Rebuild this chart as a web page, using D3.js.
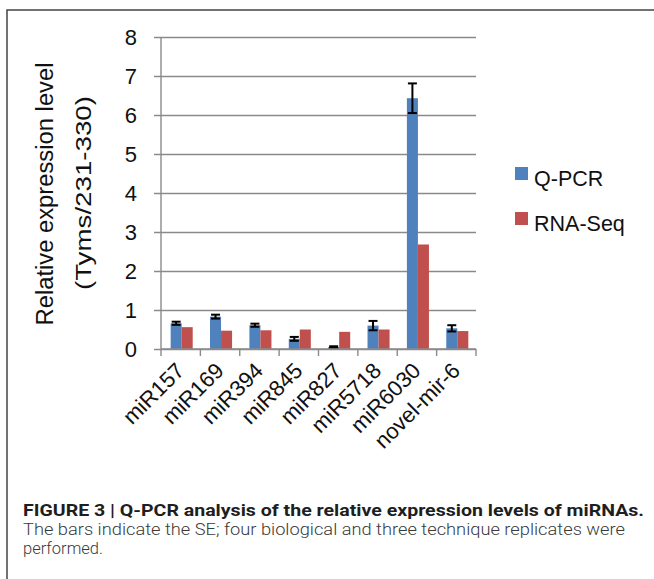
<!DOCTYPE html>
<html>
<head>
<meta charset="utf-8">
<script src="https://cdn.jsdelivr.net/npm/d3@7"></script>
<style>
  body { margin: 0; background: #fff; }
  svg { display: block; }
</style>
</head>
<body>
<svg id="chart"></svg>
<script>
// values
const categories = ["miR157", "miR169", "miR394", "miR845", "miR827", "miR5718", "miR6030", "novel-mir-6"];
const series = ["Q-PCR", "RNA-Seq"];
const qpcr = [0.66, 0.83, 0.61, 0.26, 0.05, 0.60, 6.43, 0.53];
const qpcrSE = [0.04, 0.05, 0.04, 0.05, 0.02, 0.12, 0.38, 0.08];
const rnaseq = [0.56, 0.47, 0.48, 0.50, 0.44, 0.50, 2.68, 0.46];
const yTicks = [0, 1, 2, 3, 4, 5, 6, 7, 8];
const captionTitle = "FIGURE 3 | Q-PCR analysis of the relative expression levels of miRNAs.";
const captionBody = [
    "The bars indicate the SE; four biological and three technique replicates were",
    "performed."
];

const W = 654, H = 579;
const colors = { "Q-PCR": "#4F81BD", "RNA-Seq": "#C0504D" };
const font = "'Liberation Sans', Arial, sans-serif";

const svg = d3.select("#chart").attr("width", W).attr("height", H);

// frame round the figure (top and left edge only)
svg.append("path")
    .attr("d", `M7,${H} L7,10 L${W},10`)
    .attr("fill", "none")
    .attr("stroke", "#444")
    .attr("stroke-width", 1.5);

const plot = { left: 161, right: 476, top: 37, bottom: 349 };

const x = d3.scaleBand().domain(categories).range([plot.left, plot.right]);
const xs = d3.scaleBand().domain(series)
    .range([x.bandwidth() * 0.245, x.bandwidth() * 0.805]);
const y = d3.scaleLinear().domain([0, 8]).range([plot.bottom, plot.top]);

// gridlines + left ticks
const yAxis = svg.append("g")
    .attr("transform", `translate(${plot.left},0)`)
    .call(d3.axisLeft(y).tickValues(yTicks).tickSize(-(plot.right - plot.left)).tickPadding(24).tickFormat(d3.format("d")));
yAxis.select(".domain").remove();
yAxis.selectAll(".tick line").attr("stroke", "#8a8a8a").attr("stroke-width", 1.4)
    .attr("x1", -7);
yAxis.selectAll(".tick text")
    .attr("font-family", font).attr("font-size", 22).attr("fill", "#111");

// vertical axis line
svg.append("line")
    .attr("x1", plot.left).attr("x2", plot.left)
    .attr("y1", y(8)).attr("y2", plot.bottom)
    .attr("stroke", "#8a8a8a").attr("stroke-width", 1.4);

// bars
const rows = categories.map((c, i) => ({ cat: c, i, vals: [qpcr[i], rnaseq[i]] }));
const grp = svg.append("g").selectAll("g").data(rows).join("g")
    .attr("transform", d => `translate(${x(d.cat)},0)`);

grp.selectAll("rect")
    .data(d => series.map((s, k) => ({ s, v: d.vals[k] })))
    .join("rect")
    .attr("x", d => xs(d.s))
    .attr("width", xs.bandwidth())
    .attr("y", d => y(d.v))
    .attr("height", d => y(0) - y(d.v))
    .attr("fill", d => colors[d.s]);

// error bars on Q-PCR
const eb = grp.append("g")
    .attr("stroke", "#000").attr("stroke-width", 2);
const ebx = xs("Q-PCR") + xs.bandwidth() / 2;
eb.append("line")
    .attr("x1", ebx).attr("x2", ebx)
    .attr("y1", d => y(qpcr[d.i] + qpcrSE[d.i]))
    .attr("y2", d => y(qpcr[d.i] - qpcrSE[d.i]));
[1, -1].forEach(sign => {
    eb.append("line")
        .attr("x1", ebx - 4.5).attr("x2", ebx + 4.5)
        .attr("y1", d => y(qpcr[d.i] + sign * qpcrSE[d.i]))
        .attr("y2", d => y(qpcr[d.i] + sign * qpcrSE[d.i]));
});

// x axis
const xAxis = svg.append("g")
    .attr("transform", `translate(0,${plot.bottom})`);
xAxis.append("line")
    .attr("x1", plot.left).attr("x2", plot.right)
    .attr("stroke", "#8a8a8a").attr("stroke-width", 1.4);
const bounds = categories.map(c => x(c)).concat([plot.right]);
xAxis.selectAll("line.tk").data(bounds).join("line")
    .attr("class", "tk")
    .attr("x1", d => d).attr("x2", d => d)
    .attr("y1", 0).attr("y2", 7)
    .attr("stroke", "#8a8a8a").attr("stroke-width", 1.4);
xAxis.selectAll("text").data(categories).join("text")
    .attr("transform", d => `translate(${x(d) + x.bandwidth() / 2 + 5},${23}) rotate(-45)`)
    .attr("text-anchor", "end")
    .attr("font-family", font).attr("font-size", 22).attr("fill", "#111")
    .text(d => d);

// y axis title
const yt = svg.append("g").attr("font-family", font).attr("fill", "#111").attr("text-anchor", "middle");
yt.append("text")
    .attr("transform", "translate(53,194) rotate(-90)")
    .attr("font-size", 23)
    .attr("textLength", 263).attr("lengthAdjust", "spacingAndGlyphs")
    .text("Relative expression level");
yt.append("text")
    .attr("transform", "translate(91,193) rotate(-90)")
    .attr("font-size", 22)
    .attr("textLength", 194).attr("lengthAdjust", "spacingAndGlyphs")
    .text("(Tyms/231-330)");

// legend
const leg = svg.append("g").selectAll("g").data(series).join("g")
    .attr("transform", (d, i) => `translate(515,${167 + i * 45})`);
leg.append("rect").attr("width", 13).attr("height", 13).attr("fill", d => colors[d]);
leg.append("text")
    .attr("x", 19).attr("y", 19)
    .attr("font-family", font).attr("font-size", 21.5).attr("fill", "#111")
    .text(d => d);

// caption
const cap = svg.append("g").attr("font-family", "Roboto, 'Noto Sans', sans-serif");
cap.append("text")
    .attr("x", 23).attr("y", 516)
    .attr("font-size", 17).attr("font-weight", "bold").attr("fill", "#1e1e1e")
    .attr("textLength", 621).attr("lengthAdjust", "spacingAndGlyphs")
    .text(captionTitle);
cap.selectAll("text.body").data(captionBody).join("text")
    .attr("class", "body")
    .attr("x", 23).attr("y", (d, i) => 535 + i * 19)
    .attr("font-size", 16.5).attr("font-weight", 300).attr("fill", "#3a3a3a")
    .each(function(d, i) {
        if (i === 0) d3.select(this).attr("textLength", 602).attr("lengthAdjust", "spacingAndGlyphs");
    })
    .text(d => d);
</script>
</body>
</html>
